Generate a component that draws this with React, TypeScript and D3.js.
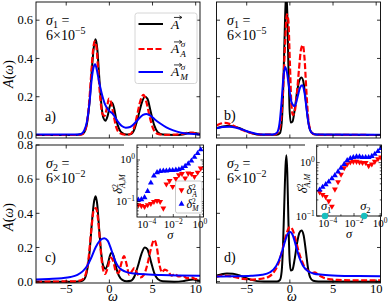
import React from "react";
import * as d3 from "d3";

type P = [number, number];
const FONT = "'Liberation Serif', 'Times New Roman', Times, serif";

// ---------- axes data ----------
const omegaDomain: [number, number] = [-8.5, 10.5];
const omegaTicks = [-5, 0, 5, 10];
const ampTicksTop = [0, 0.2, 0.4, 0.6];
const ampTicksBottom = [0, 0.2, 0.4, 0.6, 0.8];

// ---------- model 1 (panels a, c) ----------
const exact1: P[] = [[-8.5,0],[-4,0],[-3.3,0.002],[-2.9,0.015],[-2.6,0.06],[-2.3,0.17],[-2.0,0.36],[-1.8,0.46],[-1.6,0.5],[-1.4,0.45],[-1.2,0.32],[-0.95,0.17],[-0.7,0.09],[-0.45,0.075],[-0.2,0.1],[0.05,0.15],[0.3,0.17],[0.55,0.14],[0.8,0.08],[1.1,0.035],[1.5,0.01],[2.0,0.002],[2.5,0.005],[2.9,0.03],[3.3,0.09],[3.7,0.16],[4.1,0.2],[4.4,0.19],[4.8,0.12],[5.2,0.05],[5.6,0.015],[6.2,0.002],[7.5,0],[8.5,0.003],[9.2,0.01],[9.7,0.012],[10.2,0.008],[10.5,0.005]];
const recA1s1: P[] = [[-8.5,0],[-3.6,0],[-3.1,0.005],[-2.7,0.04],[-2.4,0.14],[-2.1,0.32],[-1.9,0.44],[-1.7,0.49],[-1.5,0.46],[-1.3,0.34],[-1.05,0.19],[-0.8,0.11],[-0.55,0.1],[-0.3,0.14],[-0.05,0.19],[0.2,0.17],[0.5,0.1],[0.8,0.04],[1.2,0.01],[1.8,0.002],[2.4,0.004],[2.8,0.03],[3.2,0.1],[3.6,0.18],[3.95,0.21],[4.3,0.17],[4.7,0.09],[5.1,0.03],[5.6,0.006],[6.5,0.001],[8,0.003],[9.3,0.012],[10,0.01],[10.5,0.004]];
const recM1s1: P[] = [[-8.5,0.002],[-4,0.002],[-3.3,0.005],[-2.9,0.025],[-2.6,0.07],[-2.3,0.17],[-2.05,0.29],[-1.85,0.35],[-1.65,0.37],[-1.45,0.34],[-1.2,0.28],[-0.9,0.22],[-0.5,0.16],[-0.1,0.13],[0.4,0.11],[0.9,0.075],[1.4,0.048],[1.9,0.038],[2.4,0.042],[2.9,0.06],[3.4,0.085],[3.9,0.105],[4.3,0.11],[4.8,0.1],[5.3,0.08],[5.9,0.06],[6.6,0.04],[7.4,0.024],[8.3,0.012],[9.3,0.006],[10.5,0.003]];
const recA1s2: P[] = [[-8.5,0],[-4,0.002],[-3.3,0.008],[-2.8,0.035],[-2.45,0.12],[-2.1,0.3],[-1.8,0.42],[-1.55,0.43],[-1.3,0.36],[-1.05,0.21],[-0.8,0.09],[-0.5,0.045],[-0.2,0.08],[0.15,0.14],[0.45,0.12],[0.75,0.06],[1.05,0.05],[1.4,0.11],[1.7,0.15],[2.0,0.1],[2.3,0.04],[2.6,0.06],[2.9,0.08],[3.2,0.05],[3.6,0.025],[4.0,0.04],[4.4,0.1],[4.8,0.19],[5.2,0.245],[5.5,0.2],[5.8,0.1],[6.1,0.055],[6.4,0.07],[6.8,0.06],[7.2,0.035],[7.6,0.045],[8.0,0.03],[8.5,0.035],[9.0,0.02],[9.5,0.025],[10.0,0.015],[10.5,0.015]];
const recM1s2: P[] = [[-8.5,0.013],[-7,0.016],[-5.5,0.02],[-4.5,0.027],[-3.7,0.04],[-3.1,0.06],[-2.6,0.09],[-2.1,0.14],[-1.6,0.2],[-1.1,0.24],[-0.6,0.254],[-0.2,0.24],[0.2,0.19],[0.6,0.13],[1.0,0.09],[1.5,0.067],[2.0,0.056],[3.0,0.047],[4.5,0.042],[6,0.039],[8,0.036],[10.5,0.034]];

// ---------- model 2 (panels b, d) ----------
const exact2: P[] = [[-8.5,0.036],[-8,0.042],[-7.3,0.047],[-6.6,0.046],[-5.9,0.037],[-5.2,0.023],[-4.5,0.011],[-3.8,0.003],[-3,0.001],[-1.5,0.001],[-1.15,0.01],[-0.95,0.06],[-0.8,0.2],[-0.65,0.45],[-0.5,0.68],[-0.4,0.74],[-0.3,0.64],[-0.18,0.38],[-0.05,0.15],[0.1,0.065],[0.3,0.07],[0.55,0.13],[0.85,0.23],[1.1,0.285],[1.35,0.3],[1.6,0.27],[1.85,0.18],[2.1,0.08],[2.35,0.025],[2.7,0.005],[3.3,0.001],[10.5,0]];
const recA2s1: P[] = [[-8.5,0.05],[-8.0,0.06],[-7.5,0.063],[-7.0,0.058],[-6.4,0.045],[-5.7,0.03],[-5,0.017],[-4.2,0.007],[-3.3,0.002],[-1.8,0.002],[-1.35,0.015],[-1.05,0.07],[-0.8,0.22],[-0.55,0.48],[-0.35,0.63],[-0.18,0.6],[0.0,0.38],[0.18,0.16],[0.35,0.105],[0.55,0.12],[0.8,0.21],[1.05,0.34],[1.3,0.45],[1.5,0.47],[1.7,0.4],[1.9,0.24],[2.1,0.1],[2.35,0.03],[2.7,0.006],[3.5,0.001],[10.5,0]];
const recM2s1: P[] = [[-8.5,0.035],[-7.8,0.042],[-7,0.043],[-6.2,0.038],[-5.4,0.027],[-4.6,0.014],[-3.8,0.005],[-3,0.002],[-2,0.002],[-1.5,0.012],[-1.2,0.06],[-0.95,0.18],[-0.75,0.3],[-0.55,0.355],[-0.35,0.33],[-0.1,0.25],[0.2,0.17],[0.55,0.15],[0.9,0.2],[1.2,0.25],[1.45,0.26],[1.7,0.22],[1.95,0.13],[2.2,0.05],[2.5,0.013],[3,0.003],[10.5,0.001]];
const recA2s2: P[] = [[-8.5,0.028],[-7.8,0.035],[-7,0.032],[-6.2,0.024],[-5.4,0.016],[-4.6,0.012],[-3.8,0.014],[-3.0,0.02],[-2.4,0.03],[-1.8,0.06],[-1.3,0.11],[-0.8,0.2],[-0.4,0.28],[0.0,0.32],[0.35,0.3],[0.7,0.24],[1.05,0.17],[1.4,0.12],[1.75,0.08],[2.1,0.065],[2.5,0.05],[2.9,0.055],[3.3,0.04],[3.8,0.025],[4.5,0.015],[5.5,0.01],[7,0.008],[8.5,0.008],[10.5,0.008]];
const recM2s2: P[] = [[-8.5,0.03],[-6.5,0.031],[-4.5,0.034],[-3.2,0.04],[-2.3,0.055],[-1.6,0.09],[-1.0,0.16],[-0.6,0.23],[-0.25,0.28],[0.05,0.29],[0.35,0.27],[0.7,0.21],[1.1,0.14],[1.5,0.095],[2.0,0.065],[2.7,0.048],[3.8,0.04],[5.5,0.035],[8,0.033],[10.5,0.032]];

// ---------- insets: log10(sigma) grid and log10(delta^2) ----------
const sigmaExp = [-4.63,-4.40,-4.16,-3.93,-3.69,-3.46,-3.22,-2.99,-2.75,-2.52,-2.28,-2.05,-1.81,-1.58,-1.35,-1.11,-0.88,-0.64,-0.41,-0.17,0.06];
const deltaA1Exp = [-1.08,-1.1,-1.12,-1.08,-1.05,-1.0,-0.98,-1.0,-1.16,-0.58,-0.5,-0.64,-0.45,-0.36,-0.33,-0.44,-0.32,-0.33,-0.4,-0.3,-0.2];
const deltaM1Exp = [-0.96,-0.95,-0.9,-0.75,-0.55,-0.38,-0.3,-0.27,-0.26,-0.26,-0.25,-0.25,-0.24,-0.23,-0.2,-0.15,-0.09,-0.02,0.07,0.16,0.25];
const deltaA2Exp = [-0.55,-0.6,-0.64,-0.72,-0.82,-0.5,-0.36,-0.22,-0.1,-0.03,0.01,0.02,0.02,0.01,0.0,0.0,-0.06,-0.03,0.02,0.07,0.1];
const deltaM2Exp = [-0.51,-0.46,-0.41,-0.36,-0.3,-0.24,-0.17,-0.1,-0.03,0.04,0.08,0.1,0.11,0.11,0.1,0.1,0.1,0.12,0.16,0.21,0.27];
const sigmaMarks = [6e-5, 6e-2];
const sigmaMarkLabels = ["1", "2"];

type Box = { x0: number; x1: number; y0: number; y1: number };
const ff = { fontFamily: FONT };

function Frame({ box }: { box: Box }) {
  return <rect x={box.x0} y={box.y0} width={box.x1 - box.x0} height={box.y1 - box.y0} fill="none" stroke="#000" strokeWidth={0.9} />;
}

function Panel(props: {
  id: string; box: Box; yDomain: [number, number]; yTicks: number[];
  black: P[]; red: P[]; blue: P[]; xLabels: boolean; yLabels: boolean;
}) {
  const { id, box, yDomain, yTicks, black, red, blue, xLabels, yLabels } = props;
  const x = d3.scaleLinear().domain(omegaDomain).range([box.x0, box.x1]);
  const y = d3.scaleLinear().domain(yDomain).range([box.y1, box.y0]);
  const line = d3.line<P>().x((d) => x(d[0])).y((d) => y(d[1])).curve(d3.curveMonotoneX);
  const tl = 3.5;
  return (
    <g>
      <clipPath id={id}>
        <rect x={box.x0} y={box.y0} width={box.x1 - box.x0} height={box.y1 - box.y0} />
      </clipPath>
      <g clipPath={`url(#${id})`} fill="none" strokeLinejoin="round">
        <path d={line(black) || ""} stroke="#000" strokeWidth={2} />
        <path d={line(red) || ""} stroke="#ff0000" strokeWidth={2.2} strokeDasharray="6,2.5" />
        <path d={line(blue) || ""} stroke="#0000ff" strokeWidth={2} />
      </g>
      <Frame box={box} />
      <g stroke="#000" strokeWidth={0.8}>
        {omegaTicks.map((t) => (
          <g key={"x" + t}>
            <line x1={x(t)} x2={x(t)} y1={box.y1} y2={box.y1 - tl} />
            <line x1={x(t)} x2={x(t)} y1={box.y0} y2={box.y0 + tl} />
          </g>
        ))}
        {yTicks.map((t) => (
          <g key={"y" + t}>
            <line x1={box.x0} x2={box.x0 + tl} y1={y(t)} y2={y(t)} />
            <line x1={box.x1} x2={box.x1 - tl} y1={y(t)} y2={y(t)} />
          </g>
        ))}
      </g>
      {xLabels &&
        omegaTicks.map((t) => (
          <text key={"xl" + t} x={x(t)} y={292.5} textAnchor="middle" fontSize={12.5} style={ff}>
            {t < 0 ? "\u2212" + Math.abs(t) : String(t)}
          </text>
        ))}
      {yLabels &&
        yTicks.map((t) => (
          <text key={"yl" + t} x={box.x0 - 3} y={y(t) + 4.2} textAnchor="end" fontSize={12.5} style={ff}>
            {d3.format(".1f")(t)}
          </text>
        ))}
    </g>
  );
}

function VecA({ x, y, size, sup, sub }: { x: number; y: number; size: number; sup?: string; sub?: string }) {
  const ay = y - size * 0.82;
  const ax0 = x + size * 0.22;
  const ax1 = x + size * 0.78;
  return (
    <g style={ff}>
      <text x={x} y={y} fontSize={size} fontStyle="italic">A</text>
      <line x1={ax0} x2={ax1} y1={ay} y2={ay} stroke="#000" strokeWidth={0.8} />
      <path d={`M${ax1 - 2.2},${ay - 1.6} L${ax1 + 0.4},${ay} L${ax1 - 2.2},${ay + 1.6}`} fill="none" stroke="#000" strokeWidth={0.8} />
      {sup && <text x={x + size * 0.72} y={y - size * 0.45} fontSize={size * 0.68} fontStyle="italic">{sup}</text>}
      {sub && <text x={x + size * 0.68} y={y + size * 0.28} fontSize={size * 0.68} fontStyle="italic">{sub}</text>}
    </g>
  );
}

function SigmaNote({ x, y, idx, exp }: { x: number; y: number; idx: string; exp: string }) {
  return (
    <g style={ff} fontSize={14}>
      <text x={x} y={y}>
        <tspan fontStyle="italic">σ</tspan>
        <tspan fontSize={10} dy={2.5}>{idx}</tspan>
        <tspan dy={-2.5}>{" ="}</tspan>
      </text>
      <text x={x} y={y + 15}>
        6×10<tspan fontSize={10} dy={-6}>{exp}</tspan>
      </text>
    </g>
  );
}

function Inset(props: {
  id: string; box: Box; xExpDomain: [number, number]; yExpDomain: [number, number];
  red: number[]; blue: number[]; legend: boolean; marks: boolean; bgLeft: number; labelX: number;
}) {
  const { id, box, xExpDomain, yExpDomain, red, blue, legend, marks, bgLeft, labelX } = props;
  const x = d3.scaleLog().domain([10 ** xExpDomain[0], 10 ** xExpDomain[1]]).range([box.x0, box.x1]);
  const y = d3.scaleLog().domain([10 ** yExpDomain[0], 10 ** yExpDomain[1]]).range([box.y1, box.y0]);
  const tri = d3.symbol().type(d3.symbolTriangle).size(15)() || "";
  const xMajor = [-4, -2, 0].map((e) => 10 ** e);
  const xMinor = [-3, -1].map((e) => 10 ** e);
  const yMajor = [-1, 0].map((e) => 10 ** e).filter((v) => v >= 10 ** yExpDomain[0] - 1e-9);
  const yMinor: number[] = [];
  [-2, -1, 0].forEach((e) => {
    for (let k = 2; k <= 9; k++) {
      const v = k * 10 ** e;
      if (v > 10 ** yExpDomain[0] && v < 10 ** yExpDomain[1]) yMinor.push(v);
    }
  });
  const expLabel = (e: number) => (e < 0 ? "\u2212" + Math.abs(e) : String(e));
  return (
    <g style={ff}>
      <rect x={bgLeft} y={box.y0 - 1.5} width={box.x1 - bgLeft + 1} height={box.y1 - box.y0 + 2} fill="#fff" />
      <clipPath id={id}>
        <rect x={box.x0} y={box.y0} width={box.x1 - box.x0} height={box.y1 - box.y0} />
      </clipPath>
      <g clipPath={`url(#${id})`}>
        {red.map((v, i) => (
          <path key={"r" + i} d={tri} transform={`translate(${x(10 ** sigmaExp[i])},${y(10 ** v)}) rotate(180)`} fill="#ff0000" />
        ))}
        {blue.map((v, i) => (
          <path key={"b" + i} d={tri} transform={`translate(${x(10 ** sigmaExp[i])},${y(10 ** v)})`} fill="#0000ff" />
        ))}
      </g>
      <Frame box={box} />
      <g stroke="#000" strokeWidth={0.7}>
        {xMajor.map((v, i) => (
          <g key={"xm" + i}>
            <line x1={x(v)} x2={x(v)} y1={box.y1} y2={box.y1 - 3} />
            <line x1={x(v)} x2={x(v)} y1={box.y0} y2={box.y0 + 3} />
          </g>
        ))}
        {xMinor.map((v, i) => (
          <g key={"xn" + i}>
            <line x1={x(v)} x2={x(v)} y1={box.y1} y2={box.y1 - 1.7} />
            <line x1={x(v)} x2={x(v)} y1={box.y0} y2={box.y0 + 1.7} />
          </g>
        ))}
        {yMajor.map((v, i) => (
          <g key={"ym" + i}>
            <line x1={box.x0} x2={box.x0 + 3} y1={y(v)} y2={y(v)} />
            <line x1={box.x1} x2={box.x1 - 3} y1={y(v)} y2={y(v)} />
          </g>
        ))}
        {yMinor.map((v, i) => (
          <g key={"yn" + i}>
            <line x1={box.x0} x2={box.x0 + 1.7} y1={y(v)} y2={y(v)} />
            <line x1={box.x1} x2={box.x1 - 1.7} y1={y(v)} y2={y(v)} />
          </g>
        ))}
      </g>
      {[-4, -2, 0].map((e) => (
        <text key={"xl" + e} x={x(10 ** e)} y={box.y1 + 11} textAnchor="middle" fontSize={11}>
          10<tspan fontSize={7.5} dy={-4}>{expLabel(e)}</tspan>
        </text>
      ))}
      {yMajor.map((v, i) => {
        const e = Math.round(Math.log10(v));
        return (
          <text key={"yl" + i} x={box.x0 - 2} y={y(v) + 3.5} textAnchor="end" fontSize={11}>
            10<tspan fontSize={7.5} dy={-4}>{expLabel(e)}</tspan>
          </text>
        );
      })}
      <text x={(box.x0 + box.x1) / 2} y={box.y1 + 22} textAnchor="middle" fontSize={12.5} fontStyle="italic">σ</text>
      <text transform={`translate(${labelX},${(box.y0 + box.y1) / 2 + 3}) rotate(-90)`} textAnchor="middle" fontSize={12.5}>
        <tspan fontStyle="italic">δ</tspan>
        <tspan fontSize={8} dy={-4.5}>2</tspan>
        <tspan fontSize={8} dx={-4} dy={7.5} fontStyle="italic">A,M</tspan>
      </text>
      {legend && (
        <g>
          <rect x={box.x1 - 28} y={box.y1 - 36} width={26.5} height={32} rx={2} fill="#fff" fillOpacity={0.85} stroke="#bbb" strokeWidth={0.8} />
          <path d={tri} transform={`translate(${box.x1 - 22},${box.y1 - 27}) rotate(180)`} fill="#ff0000" />
          <path d={tri} transform={`translate(${box.x1 - 22},${box.y1 - 13})`} fill="#0000ff" />
          <text x={box.x1 - 17} y={box.y1 - 23.5} fontSize={12}>
            <tspan fontStyle="italic">δ</tspan>
            <tspan fontSize={7.5} dy={-4}>2</tspan>
            <tspan fontSize={7.5} dx={-3.5} dy={7} fontStyle="italic">A</tspan>
          </text>
          <text x={box.x1 - 17} y={box.y1 - 9.5} fontSize={12}>
            <tspan fontStyle="italic">δ</tspan>
            <tspan fontSize={7.5} dy={-4}>2</tspan>
            <tspan fontSize={7.5} dx={-3.5} dy={7} fontStyle="italic">M</tspan>
          </text>
        </g>
      )}
      {marks &&
        sigmaMarks.map((s, i) => (
          <g key={"m" + i}>
            <circle cx={x(s)} cy={box.y1} r={3.2} fill="#17bfbf" />
            <text x={x(s) - 4} y={box.y1 - 6} fontSize={12.5}>
              <tspan fontStyle="italic">σ</tspan>
              <tspan fontSize={8.5} dy={2.5}>{sigmaMarkLabels[i]}</tspan>
            </text>
          </g>
        ))}
    </g>
  );
}

export default function App() {
  const boxA: Box = { x0: 36, x1: 200, y0: 2, y1: 138 };
  const boxB: Box = { x0: 216.5, x1: 380.5, y0: 2, y1: 138 };
  const boxC: Box = { x0: 36, x1: 200, y0: 145, y1: 283 };
  const boxD: Box = { x0: 216.5, x1: 380.5, y0: 145, y1: 283 };
  const topDom: [number, number] = [-0.0157, 0.695];
  const botDom: [number, number] = [-0.008, 0.8];
  return (
    <div style={{ position: "absolute", left: 0, top: 0 }}>
      <svg width={390} height={304} viewBox="0 0 390 304" style={{ display: "block", background: "#fff", fontFamily: FONT }}>
        <Panel id="ca" box={boxA} yDomain={topDom} yTicks={ampTicksTop} black={exact1} red={recA1s1} blue={recM1s1} xLabels={false} yLabels={true} />
        <Panel id="cb" box={boxB} yDomain={topDom} yTicks={ampTicksTop} black={exact2} red={recA2s1} blue={recM2s1} xLabels={false} yLabels={false} />
        <Panel id="cc" box={boxC} yDomain={botDom} yTicks={ampTicksBottom} black={exact1} red={recA1s2} blue={recM1s2} xLabels={true} yLabels={true} />
        <Panel id="cd" box={boxD} yDomain={botDom} yTicks={ampTicksBottom} black={exact2} red={recA2s2} blue={recM2s2} xLabels={true} yLabels={false} />

        {/* legend panel a */}
        <g>
          <rect x={135} y={13} width={62} height={70.5} rx={2.5} fill="#fff" fillOpacity={0.85} stroke="#ccc" strokeWidth={0.8} />
          <line x1={138.5} x2={163} y1={24} y2={24} stroke="#000" strokeWidth={2} />
          <line x1={138.5} x2={163} y1={49} y2={49} stroke="#ff0000" strokeWidth={2.2} strokeDasharray="6,2.5" />
          <line x1={138.5} x2={163} y1={72} y2={72} stroke="#0000ff" strokeWidth={2} />
          <VecA x={171} y={28.5} size={13.5} />
          <VecA x={171} y={53} size={13.5} sup="σ" sub="A" />
          <VecA x={171} y={76} size={13.5} sup="σ" sub="M" />
        </g>

        <SigmaNote x={46} y={25} idx="1" exp="−5" />
        <SigmaNote x={227} y={25} idx="1" exp="−5" />
        <SigmaNote x={46} y={168} idx="2" exp="−2" />
        <SigmaNote x={227} y={168} idx="2" exp="−2" />

        <g style={ff} fontSize={14}>
          <text x={45} y={121}>a)</text>
          <text x={224} y={120}>b)</text>
          <text x={45} y={262}>c)</text>
          <text x={224} y={262}>d)</text>
        </g>

        {/* axis labels */}
        <g style={ff} fontSize={14}>
          {[74, 217].map((cy) => (
            <text key={cy} transform={`translate(13,${cy}) rotate(-90)`} textAnchor="middle">
              <tspan fontStyle="italic">A</tspan>(<tspan fontStyle="italic">ω</tspan>)
            </text>
          ))}
          <text x={113} y={301} textAnchor="middle" fontStyle="italic">ω</text>
          <text x={292} y={301} textAnchor="middle" fontStyle="italic">ω</text>
        </g>

        <Inset id="ic" box={{ x0: 137, x1: 203.5, y0: 145, y1: 217 }} xExpDomain={[-4.73, 0.27]} yExpDomain={[-1.37, 0.36]}
          red={deltaA1Exp} blue={deltaM1Exp} legend={true} marks={false} bgLeft={124} labelX={122} />
        <Inset id="id" box={{ x0: 316.7, x1: 381.5, y0: 145, y1: 216 }} xExpDomain={[-4.85, 0.1]} yExpDomain={[-1.0, 0.33]}
          red={deltaA2Exp} blue={deltaM2Exp} legend={false} marks={true} bgLeft={305} labelX={307} />
      </svg>
    </div>
  );
}
